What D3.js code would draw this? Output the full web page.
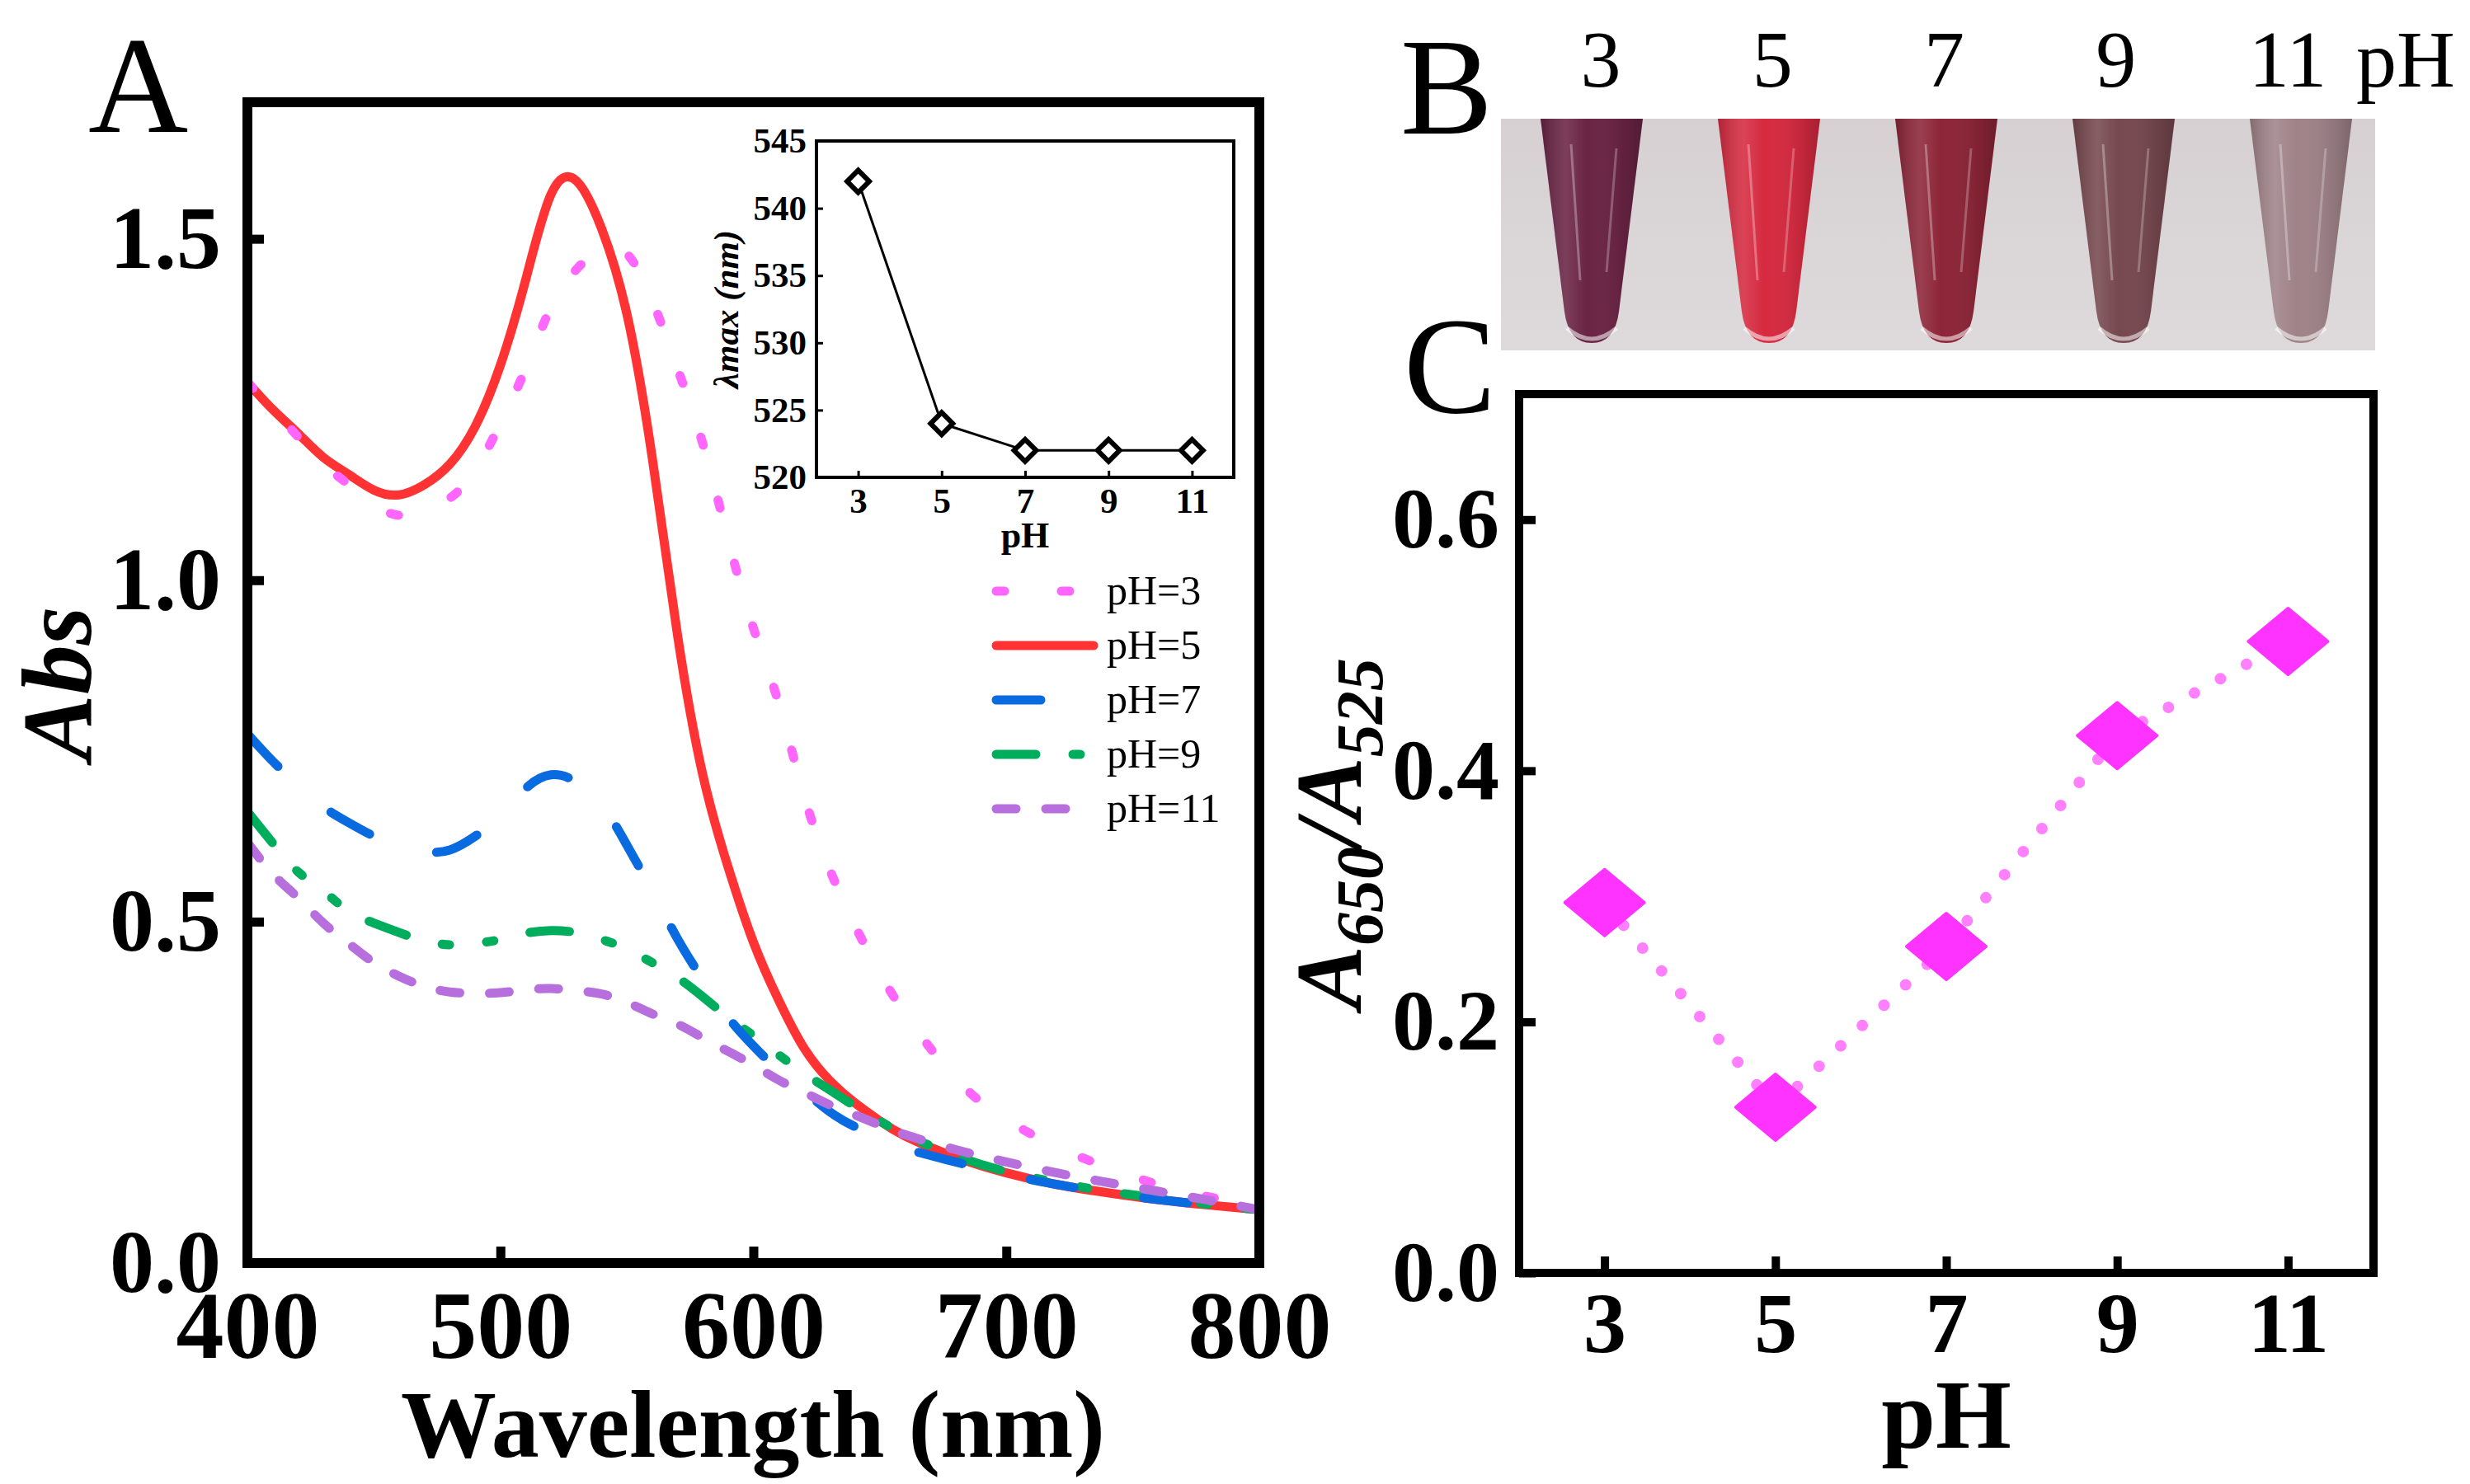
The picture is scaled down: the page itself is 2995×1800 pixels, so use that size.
<!DOCTYPE html>
<html>
<head>
<meta charset="utf-8">
<script src="https://cdn.jsdelivr.net/npm/d3@7"></script>
<style>
  html, body { margin: 0; padding: 0; background: #fff; }
  svg text { font-family: "Liberation Serif", "Times New Roman", serif; fill: #000; }
</style>
</head>
<body>
<svg id="fig" width="2995" height="1800" viewBox="0 0 2995 1800"></svg>
<script>
// ---- panel A : UV-vis spectra ----
var wavelengths = [400, 410, 420, 430, 440, 450, 460, 470, 480, 490, 500, 510, 520, 530, 540, 550, 560, 570, 580, 590,
    600, 610, 620, 630, 640, 650, 660, 680, 700, 720, 740, 760, 780, 800];
var absPH3 = [1.29, 1.25, 1.21, 1.17, 1.14, 1.11, 1.095, 1.10, 1.12, 1.16, 1.23, 1.31, 1.40, 1.455, 1.485, 1.478, 1.41, 1.31, 1.20, 1.06,
    0.93, 0.82, 0.685, 0.578, 0.495, 0.425, 0.365, 0.27, 0.21, 0.17, 0.14, 0.115, 0.097, 0.08];
var absPH5 = [1.29, 1.25, 1.215, 1.18, 1.155, 1.132, 1.125, 1.14, 1.17, 1.225, 1.315, 1.44, 1.565, 1.585, 1.515, 1.39, 1.18, 0.92, 0.715, 0.58,
    0.47, 0.385, 0.315, 0.268, 0.235, 0.208, 0.186, 0.155, 0.132, 0.115, 0.103, 0.093, 0.085, 0.078];
var absPH7 = [0.775, 0.735, 0.70, 0.668, 0.645, 0.625, 0.61, 0.602, 0.605, 0.625, 0.655, 0.695, 0.715, 0.705, 0.672, 0.612, 0.545, 0.475, 0.415, 0.36,
    0.318, 0.282, 0.252, 0.222, 0.2, 0.183, 0.168, 0.148, 0.13, 0.115, 0.103, 0.093, 0.085, 0.078];
var absPH9 = [0.661, 0.615, 0.573, 0.545, 0.515, 0.498, 0.484, 0.472, 0.466, 0.468, 0.474, 0.483, 0.487, 0.484, 0.474, 0.46, 0.44, 0.418, 0.39, 0.36,
    0.333, 0.305, 0.278, 0.254, 0.23, 0.208, 0.188, 0.157, 0.134, 0.118, 0.105, 0.095, 0.086, 0.078];
var absPH11 = [0.616, 0.57, 0.535, 0.498, 0.468, 0.44, 0.42, 0.405, 0.397, 0.395, 0.396, 0.4, 0.402, 0.399, 0.394, 0.382, 0.365, 0.35, 0.33, 0.31,
    0.29, 0.268, 0.25, 0.232, 0.217, 0.202, 0.188, 0.166, 0.148, 0.132, 0.118, 0.105, 0.092, 0.078];
var seriesNames = ['pH=3', 'pH=5', 'pH=7', 'pH=9', 'pH=11'];
var waveTicks = [400, 500, 600, 700, 800];
var absTicks = [0, 0.5, 1.0, 1.5];

// ---- inset : lambda max ----
var insetPH = [3, 5, 7, 9, 11];
var lambdaMax = [542, 524, 522, 522, 522];
var lambdaTicks = [520, 525, 530, 535, 540, 545];

// ---- panel B : photo labels ----
var tubeLabels = ['3', '5', '7', '9', '11'];

// ---- panel C : A650/A525 ----
var ratioPH = [3, 5, 7, 9, 11];
var ratioValues = [0.295, 0.132, 0.26, 0.428, 0.503];
var ratioTicks = [0, 0.2, 0.4, 0.6];

var seriesValues = [absPH3, absPH5, absPH7, absPH9, absPH11];
var seriesColors = ['#ff66ff', '#ff3333', '#0a6be0', '#00ad5c', '#b66fdc'];
var seriesDashes = ['10,69', null, '54,85', '48,45,9,45,9,45', '24,36'];
var drawOrder = [1, 0, 3, 2, 4];
var tubeColors = ['#6a2444', '#d62a40', '#8c2537', '#76484f', '#9f8389'];

var svg = d3.select('#fig');
var defs = svg.append('defs');

function styleAxis(g, fontSize, tickWidth) {
    g.select('.domain').remove();
    g.attr('font-family', null);
    g.selectAll('.tick line').attr('stroke', '#000').attr('stroke-width', tickWidth);
    g.selectAll('.tick text')
        .attr('font-size', fontSize)
        .attr('font-weight', 'bold')
        .attr('fill', '#000');
}

function panelLetter(txt, x, y) {
    svg.append('text').attr('x', x).attr('y', y)
        .attr('font-size', 168).text(txt);
}

// ================= panel A =================
var xA = d3.scaleLinear().domain([400, 800]).range([300, 1527]);
var yA = d3.scaleLinear().domain([0, 1.7]).range([1532, 124]);

var spectrum = d3.line()
    .x(function (d, i) { return xA(wavelengths[i]); })
    .y(function (d) { return yA(d); })
    .curve(d3.curveNatural);

var curves = svg.append('g');
drawOrder.forEach(function (k) {
    var p = curves.append('path')
        .datum(seriesValues[k])
        .attr('d', spectrum)
        .attr('fill', 'none')
        .attr('stroke', seriesColors[k])
        .attr('stroke-width', 11)
        .attr('stroke-linecap', 'round')
        .attr('stroke-linejoin', 'round');
    if (seriesDashes[k]) p.attr('stroke-dasharray', seriesDashes[k]);
});

var axA_x = svg.append('g').attr('transform', 'translate(0,1532)')
    .call(d3.axisBottom(xA).tickValues(waveTicks).tickSizeInner(-20).tickSizeOuter(0)
        .tickPadding(33).tickFormat(d3.format('d')));
styleAxis(axA_x, 116, 11);
var axA_y = svg.append('g').attr('transform', 'translate(300,0)')
    .call(d3.axisLeft(yA).tickValues(absTicks).tickSizeInner(-20).tickSizeOuter(0)
        .tickPadding(32).tickFormat(d3.format('.1f')));
styleAxis(axA_y, 108, 11);

svg.append('rect').attr('x', 300).attr('y', 124).attr('width', 1227).attr('height', 1408)
    .attr('fill', 'none').attr('stroke', '#000').attr('stroke-width', 12);

svg.append('text').attr('x', 913).attr('y', 1767).attr('text-anchor', 'middle')
    .attr('font-size', 116).attr('font-weight', 'bold').text('Wavelength (nm)');
svg.append('text').attr('transform', 'translate(110,829) rotate(-90)').attr('text-anchor', 'middle')
    .attr('font-size', 120).attr('font-weight', 'bold').attr('font-style', 'italic').text('Abs');
panelLetter('A', 107, 160);

// legend
var legend = svg.append('g');
seriesNames.forEach(function (name, i) {
    var ly = 717 + 66 * i;
    var l = legend.append('line')
        .attr('x1', 1208).attr('x2', 1326).attr('y1', ly).attr('y2', ly)
        .attr('stroke', seriesColors[i]).attr('stroke-width', 11).attr('stroke-linecap', 'round');
    if (seriesDashes[i]) l.attr('stroke-dasharray', seriesDashes[i]);
    legend.append('text').attr('x', 1342).attr('y', ly + 16)
        .attr('font-size', 50).text(name);
});

// inset
var xI = d3.scaleLinear().domain([2, 12]).range([990, 1496]);
var yI = d3.scaleLinear().domain([520, 545]).range([579, 171]);
var axI_x = svg.append('g').attr('transform', 'translate(0,579)')
    .call(d3.axisBottom(xI).tickValues(insetPH).tickSizeInner(-8).tickSizeOuter(0).tickPadding(12));
styleAxis(axI_x, 43, 3);
var axI_y = svg.append('g').attr('transform', 'translate(990,0)')
    .call(d3.axisLeft(yI).tickValues(lambdaTicks).tickSizeInner(-8).tickSizeOuter(0).tickPadding(12));
styleAxis(axI_y, 43, 3);
svg.append('rect').attr('x', 990).attr('y', 171).attr('width', 506).attr('height', 408)
    .attr('fill', 'none').attr('stroke', '#000').attr('stroke-width', 4);

svg.append('path')
    .datum(lambdaMax)
    .attr('d', d3.line().x(function (d, i) { return xI(insetPH[i]); }).y(function (d) { return yI(d); }))
    .attr('fill', 'none').attr('stroke', '#000').attr('stroke-width', 3);
svg.append('g').selectAll('rect').data(lambdaMax).enter().append('rect')
    .attr('x', -9.5).attr('y', -9.5).attr('width', 19).attr('height', 19)
    .attr('transform', function (d, i) { return 'translate(' + xI(insetPH[i]) + ',' + yI(d) + ') rotate(45)'; })
    .attr('fill', '#fff').attr('stroke', '#000').attr('stroke-width', 6);

svg.append('text').attr('x', 1243).attr('y', 664).attr('text-anchor', 'middle')
    .attr('font-size', 44).attr('font-weight', 'bold').text('pH');
svg.append('text').attr('transform', 'translate(895,375) rotate(-90)').attr('text-anchor', 'middle')
    .attr('font-size', 43).attr('font-weight', 'bold').attr('font-style', 'italic').text('\u03bbmax (nm)');

// ================= panel B (photo of the tubes) =================
var tubeX = d3.scalePoint().domain(tubeLabels).range([1930, 2790]);
var labelX = d3.scalePoint().domain(tubeLabels).range([1941, 2774]);

var bg = defs.append('linearGradient').attr('id', 'photoBg').attr('x1', 0).attr('y1', 0).attr('x2', 0).attr('y2', 1);
bg.append('stop').attr('offset', '0%').attr('stop-color', '#d6d0d3');
bg.append('stop').attr('offset', '100%').attr('stop-color', '#dedadb');
var shine = defs.append('linearGradient').attr('id', 'tubeShine').attr('x1', 0).attr('y1', 0).attr('x2', 1).attr('y2', 0);
shine.append('stop').attr('offset', '0%').attr('stop-color', '#000').attr('stop-opacity', 0.18);
shine.append('stop').attr('offset', '25%').attr('stop-color', '#fff').attr('stop-opacity', 0.12);
shine.append('stop').attr('offset', '45%').attr('stop-color', '#fff').attr('stop-opacity', 0.0);
shine.append('stop').attr('offset', '80%').attr('stop-color', '#000').attr('stop-opacity', 0.08);
shine.append('stop').attr('offset', '100%').attr('stop-color', '#000').attr('stop-opacity', 0.22);

svg.append('rect').attr('x', 1820).attr('y', 144).attr('width', 1060).attr('height', 281)
    .attr('fill', 'url(#photoBg)');

function tubePath(cx) {
    return 'M' + (cx - 62) + ',144 L' + (cx - 33) + ',378 Q' + (cx - 28) + ',416 ' + cx + ',416 Q' +
        (cx + 28) + ',416 ' + (cx + 33) + ',378 L' + (cx + 62) + ',144 Z';
}
var tubes = svg.append('g');
tubeLabels.forEach(function (lab, i) {
    var cx = tubeX(lab);
    tubes.append('path').attr('d', tubePath(cx)).attr('fill', tubeColors[i]);
    tubes.append('path').attr('d', tubePath(cx)).attr('fill', 'url(#tubeShine)');
    // clear plastic tip
    tubes.append('path')
        .attr('d', 'M' + (cx - 30) + ',398 Q' + cx + ',424 ' + (cx + 30) + ',398')
        .attr('fill', 'none').attr('stroke', '#fff').attr('stroke-opacity', 0.55).attr('stroke-width', 5);
    // reflections
    tubes.append('line').attr('x1', cx - 25).attr('x2', cx - 14).attr('y1', 175).attr('y2', 340)
        .attr('stroke', '#fff').attr('stroke-opacity', 0.3).attr('stroke-width', 3);
    tubes.append('line').attr('x1', cx + 30).attr('x2', cx + 18).attr('y1', 180).attr('y2', 330)
        .attr('stroke', '#fff').attr('stroke-opacity', 0.25).attr('stroke-width', 3);
    svg.append('text').attr('x', labelX(lab)).attr('y', 105).attr('text-anchor', 'middle')
        .attr('font-size', 98).text(lab);
});
svg.append('text').attr('x', 2857).attr('y', 105).attr('font-size', 98).text('pH');
panelLetter('B', 1698, 162);

// ================= panel C =================
var xC = d3.scaleLinear().domain([2, 12]).range([1842, 2878]);
var yC = d3.scaleLinear().domain([0, 0.7]).range([1544, 478]);

var axC_x = svg.append('g').attr('transform', 'translate(0,1544)')
    .call(d3.axisBottom(xC).tickValues(ratioPH).tickSizeInner(-20).tickSizeOuter(0).tickPadding(22));
styleAxis(axC_x, 104, 10);
var axC_y = svg.append('g').attr('transform', 'translate(1842,0)')
    .call(d3.axisLeft(yC).tickValues(ratioTicks).tickSizeInner(-20).tickSizeOuter(0)
        .tickPadding(24).tickFormat(d3.format('.1f')));
styleAxis(axC_y, 104, 10);

svg.append('path')
    .datum(ratioValues)
    .attr('d', d3.line().x(function (d, i) { return xC(ratioPH[i]); }).y(function (d) { return yC(d); }))
    .attr('fill', 'none').attr('stroke', '#ff80ff').attr('stroke-width', 14)
    .attr('stroke-dasharray', '0,36').attr('stroke-linecap', 'round');

svg.append('g').selectAll('path').data(ratioValues).enter().append('path')
    .attr('d', function (d, i) {
        var cx = xC(ratioPH[i]), cy = yC(d);
        return 'M' + (cx - 48) + ',' + cy + ' L' + cx + ',' + (cy - 40) + ' L' + (cx + 48) + ',' + cy +
            ' L' + cx + ',' + (cy + 40) + ' Z';
    })
    .attr('fill', '#ff33ff').attr('stroke', '#ff33ff').attr('stroke-width', 4).attr('stroke-linejoin', 'round');

svg.append('rect').attr('x', 1842).attr('y', 478).attr('width', 1036).attr('height', 1066)
    .attr('fill', 'none').attr('stroke', '#000').attr('stroke-width', 10);

svg.append('text').attr('x', 2360).attr('y', 1756).attr('text-anchor', 'middle')
    .attr('font-size', 118).attr('font-weight', 'bold').text('pH');

var yLab = svg.append('text').attr('transform', 'translate(1650,1011) rotate(-90)').attr('text-anchor', 'middle')
    .attr('font-size', 115).attr('font-weight', 'bold').attr('font-style', 'italic');
yLab.append('tspan').text('A');
yLab.append('tspan').attr('dy', 26).attr('font-size', 80).text('650');
yLab.append('tspan').attr('dy', -26).text('/A');
yLab.append('tspan').attr('dy', 26).attr('font-size', 80).text('525');

panelLetter('C', 1702, 500);
</script>
</body>
</html>
